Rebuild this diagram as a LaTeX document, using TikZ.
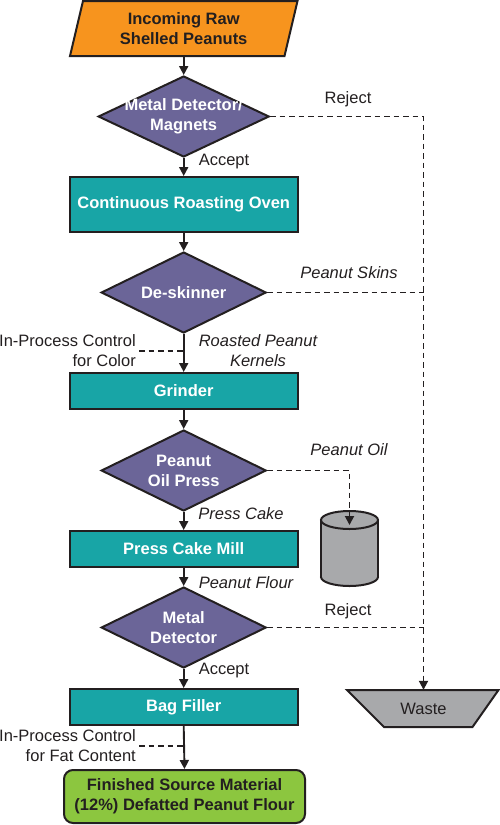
\documentclass[tikz,border=0pt]{standalone}
\usepackage{fontspec}
\setmainfont{Liberation Sans}
\usetikzlibrary{shapes.geometric,arrows.meta,calc}
\definecolor{cOrange}{HTML}{F7941E}
\definecolor{cPurple}{HTML}{6B6598}
\definecolor{cTeal}{HTML}{18A5A6}
\definecolor{cGreen}{HTML}{8CC63F}
\definecolor{cGrey}{HTML}{A8A9AB}
\definecolor{cLine}{HTML}{231F20}
\begin{document}
\begin{tikzpicture}[x=1pt,y=-1pt,
  font=\fontsize{16.5}{20}\selectfont,
  outl/.style={draw=cLine, line width=2pt},
  bfont/.style={font=\fontsize{16.5}{20}\selectfont\bfseries},
  procbox/.style={outl, fill=cTeal, rectangle, minimum width=228pt, minimum height=36pt, text=white, bfont, inner sep=0pt},
  dia/.style={outl, diamond, fill=cPurple, minimum width=165pt, minimum height=81pt, inner sep=0pt},
  diatext/.style={text=white, bfont, align=center, inner sep=0pt},
  tip/.style={-{Triangle[length=9pt,width=9pt]}},
  flow/.style={draw=cLine, line width=1.9pt, tip},
  dflow/.style={draw=cLine, line width=1.9pt, dash pattern=on 5.5pt off 4pt},
  lab/.style={inner sep=0pt, text=cLine, align=center},
  ilab/.style={lab, font=\fontsize{16.5}{20}\selectfont\itshape}
]
\useasboundingbox (0,0) rectangle (500,825);

% input parallelogram
\draw[outl, fill=cOrange] (83,1) -- (297.5,1) -- (284.5,56) -- (70,56) -- cycle;
\node[minimum width=227pt, minimum height=55pt, inner sep=0pt, align=center, bfont, text=cLine] (in) at (183.7,28.5) {Incoming Raw\\Shelled Peanuts};

% decisions and processes
\node[dia, minimum width=171pt, label={[diatext]center:{Metal Detector/\\Magnets}}] (d1) at (183.7,116.5) {};
\node[procbox, minimum height=55pt] (oven) at (183.7,204.5) {Continuous Roasting Oven};
\node[dia, label={[diatext]center:{De-skinner}}] (d2) at (183.7,292.5) {};
\node[procbox] (grinder) at (183.7,391) {Grinder};
\node[dia, label={[diatext]center:{Peanut\\Oil Press}}] (d3) at (183.7,470.5) {};
\node[procbox] (mill) at (183.7,549) {Press Cake Mill};
\node[dia, label={[diatext]center:{Metal\\Detector}}] (d4) at (183.7,627.5) {};
\node[procbox] (bag) at (183.7,707) {Bag Filler};
\node[outl, fill=cGreen, rounded corners=9pt, minimum width=241pt, minimum height=53pt, inner sep=0pt, align=center, bfont, text=cLine] (final) at (184.5,796.5) {Finished Source Material\\(12\%) Defatted Peanut Flour};

% waste trapezoid
\draw[outl, fill=cGrey] (347,690) -- (498.5,690) -- (472.5,727) -- (384,727) -- cycle;
\node[minimum width=152pt, minimum height=37pt, inner sep=0pt, text=cLine] (waste) at (423.5,708.5) {Waste};

% oil tank (cylinder)
\draw[outl, fill=cGrey] (349.5,577) ellipse (28.5 and 9);
\fill[cGrey] (321,520) rectangle (378,577);
\draw[outl] (321,520) -- (321,577) (378,520) -- (378,577);
\draw[outl, fill=cGrey] (349.5,520) ellipse (28.5 and 9);
\coordinate (tank) at (349.5,525);

% main flow
\draw[flow] (in.south) -- (d1.north);
\draw[flow] (d1.south) -- (oven.north);
\draw[flow] (oven.south) -- (d2.north);
\draw[flow] (d2.south) -- (grinder.north);
\draw[flow] (grinder.south) -- (d3.north);
\draw[flow] (d3.south) -- (mill.north);
\draw[flow] (mill.south) -- (d4.north);
\draw[flow] (d4.south) -- (bag.north);
\draw[flow] (bag.south) -- (final.north);

% side flows
\draw[dflow, tip] (d1.east) -| (waste.north);
\draw[dflow] (d2.east) -- (d2.east -| waste.north);
\draw[dflow] (d4.east) -- (d4.east -| waste.north);
\draw[dflow, tip] (d3.east) -| (tank);

% labels
\node[lab] (rej1) at (348,99) {Reject};
\node[lab] (acc1) at (224,162) {Accept};
\node[ilab] (skins) at (349,273) {Peanut Skins};
\node[lab, align=right, anchor=east] (ctrl1) at (136,351) {In-Process Control\\for Color};
\draw[dflow] ([xshift=3pt]ctrl1.east) -- (ctrl1.east -| d2.south);
\node[ilab] (kern) at (258,351) {Roasted Peanut\\Kernels};
\node[ilab] (oil) at (349,450) {Peanut Oil};
\node[ilab] (cake) at (241,514) {Press Cake};
\node[ilab] (flour) at (246,583) {Peanut Flour};
\node[lab] (rej2) at (348,611) {Reject};
\node[lab] (acc2) at (224,671) {Accept};
\node[lab, align=right, anchor=east] (ctrl2) at (136,746) {In-Process Control\\for Fat Content};
\draw[dflow] ([xshift=3pt]ctrl2.east) -- (ctrl2.east -| bag.south);
\end{tikzpicture}
\end{document}
